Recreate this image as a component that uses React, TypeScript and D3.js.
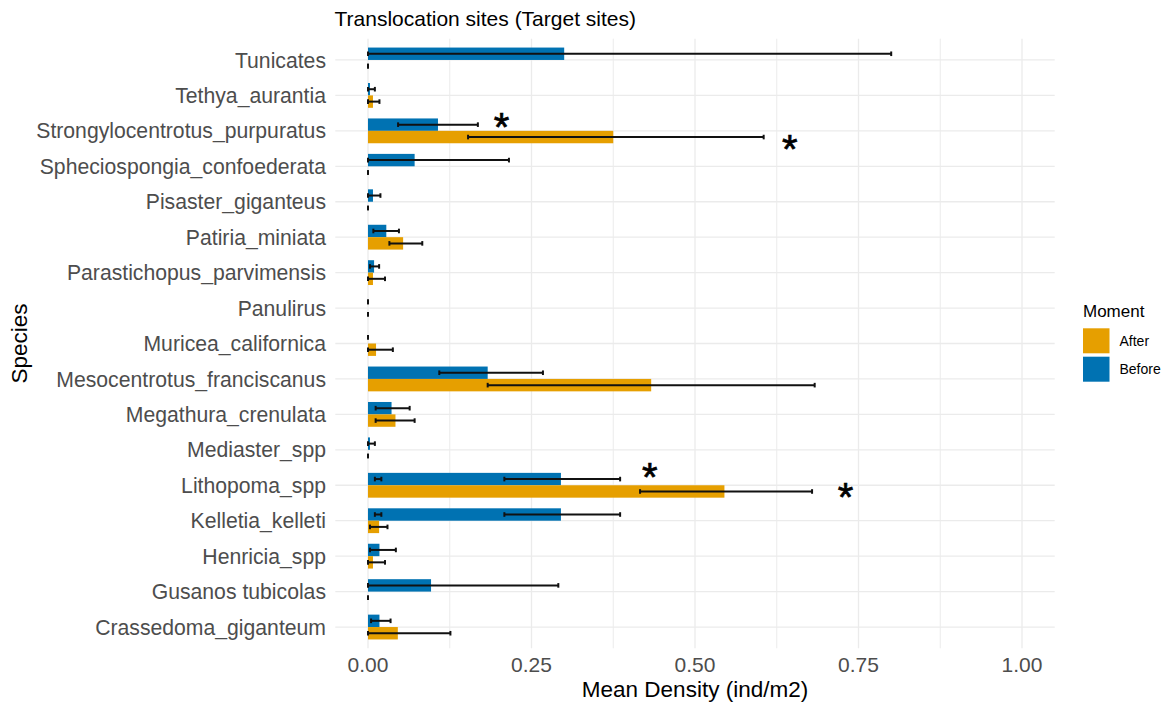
import React from "react";
import * as d3 from "d3";

const species = [
  "Tunicates",
  "Tethya_aurantia",
  "Strongylocentrotus_purpuratus",
  "Spheciospongia_confoederata",
  "Pisaster_giganteus",
  "Patiria_miniata",
  "Parastichopus_parvimensis",
  "Panulirus",
  "Muricea_californica",
  "Mesocentrotus_franciscanus",
  "Megathura_crenulata",
  "Mediaster_spp",
  "Lithopoma_spp",
  "Kelletia_kelleti",
  "Henricia_spp",
  "Gusanos tubicolas",
  "Crassedoma_giganteum",
];

const beforeMean: (number | null)[] = [0.3, 0.003, 0.107, 0.0713, 0.0076, 0.028, 0.0093, null, null, 0.183, 0.036, 0.003, 0.295, 0.295, 0.0175, 0.0964, 0.0175];
const beforeLow = [0, 0, 0.046, 0, 0, 0.0082, 0.003, 0, 0, 0.109, 0.0117, 0, 0.2085, 0.2085, 0.003, 0, 0.0047];
const beforeHigh = [0.8, 0.0105, 0.168, 0.2155, 0.019, 0.0473, 0.017, 0, 0, 0.2675, 0.0637, 0.0105, 0.3855, 0.3855, 0.0426, 0.291, 0.0345];

const afterMean: (number | null)[] = [null, 0.0076, 0.375, null, null, 0.0537, 0.0076, null, 0.0123, 0.433, 0.042, null, 0.545, 0.017, 0.0076, null, 0.0456];
const afterLow = [0, 0, 0.153, 0, 0, 0.0327, 0, 0, 0, 0.183, 0.0117, 0, 0.416, 0.003, 0, 0, 0];
const afterHigh = [0, 0.0175, 0.605, 0, 0, 0.083, 0.026, 0, 0.038, 0.683, 0.0713, 0, 0.679, 0.0298, 0.026, 0, 0.126];

// additional (duplicated) error bars present in the source for "Before"
const extraBeforeSpecies = ["Lithopoma_spp", "Kelletia_kelleti"];
const extraBeforeLow = [0.0105, 0.0105];
const extraBeforeHigh = [0.0204, 0.0204];

// significance markers: species, x value, vertical offset (in category units)
const starSpecies = ["Strongylocentrotus_purpuratus", "Strongylocentrotus_purpuratus", "Lithopoma_spp", "Lithopoma_spp"];
const starX = [0.204, 0.645, 0.431, 0.73];
const starOffset = [-0.37, 0.25, -0.49, 0.09];

const xTicks = [0, 0.25, 0.5, 0.75, 1.0];
const xMinor = [0.125, 0.375, 0.625, 0.875];
const moments = ["After", "Before"];
const momentColors = ["#E69F00", "#0072B2"];

const W = 1175;
const H = 705;
const FONT = "'Liberation Sans', Arial, Helvetica, sans-serif";

export default function App() {
  const x = d3.scaleLinear().domain([-0.05, 1.05]).range([335.3, 1054.7]);
  const y = d3.scalePoint<string>().domain(species).range([38.7, 648.3]).padding(0.6);
  const step = y.step();
  const barH = step * 0.35;
  const color = d3.scaleOrdinal<string, string>().domain(moments).range(momentColors);
  const fmt = d3.format(".2f");
  const panelL = x.range()[0];
  const panelR = x.range()[1];
  const panelT = 38.7;
  const panelB = 648.3;
  const capH = 2.3;
  const ebColor = "#111";
  const ebW = 2;

  const errBar = (key: string, lo: number, hi: number, cy: number) => (
    <g key={key}>
      {hi > lo && (
        <line x1={x(lo)} x2={x(hi)} y1={cy} y2={cy} stroke={ebColor} strokeWidth={ebW} />
      )}
      <line x1={x(lo)} x2={x(lo)} y1={cy - capH} y2={cy + capH} stroke={ebColor} strokeWidth={ebW} />
      <line x1={x(hi)} x2={x(hi)} y1={cy - capH} y2={cy + capH} stroke={ebColor} strokeWidth={ebW} />
    </g>
  );

  return (
    <svg
      width={W}
      height={H}
      style={{ position: "absolute", left: 0, top: 0, background: "#fff" }}
      fontFamily={FONT}
    >
      <rect x={0} y={0} width={W} height={H} fill="#fff" />
      {/* grid */}
      {xMinor.map((t) => (
        <line key={"mn" + t} x1={x(t)} x2={x(t)} y1={panelT} y2={panelB} stroke="#EBEBEB" strokeWidth={1} />
      ))}
      {xTicks.map((t) => (
        <line key={"mj" + t} x1={x(t)} x2={x(t)} y1={panelT} y2={panelB} stroke="#EBEBEB" strokeWidth={1.3} />
      ))}
      {species.map((s) => (
        <line key={"hg" + s} x1={panelL} x2={panelR} y1={y(s)!} y2={y(s)!} stroke="#EBEBEB" strokeWidth={1.3} />
      ))}

      {/* bars */}
      {species.map((s, i) => {
        const cy = y(s)!;
        const b = beforeMean[i];
        const a = afterMean[i];
        return (
          <g key={"bar" + s}>
            {b !== null && (
              <rect x={x(0)} y={cy - barH} width={x(b) - x(0)} height={barH} fill={color("Before")} />
            )}
            {a !== null && (
              <rect x={x(0)} y={cy} width={x(a) - x(0)} height={barH} fill={color("After")} />
            )}
          </g>
        );
      })}

      {/* error bars */}
      {species.map((s, i) => {
        const cy = y(s)!;
        return (
          <g key={"eb" + s}>
            {errBar("b" + s, beforeLow[i], beforeHigh[i], cy - barH / 2)}
            {errBar("a" + s, afterLow[i], afterHigh[i], cy + barH / 2)}
          </g>
        );
      })}
      {extraBeforeSpecies.map((s, i) => errBar("x" + s, extraBeforeLow[i], extraBeforeHigh[i], y(s)! - barH / 2))}

      {/* significance stars */}
      {starSpecies.map((s, i) => (
        <text
          key={"st" + i}
          x={x(starX[i])}
          y={y(s)! + starOffset[i] * step + 23}
          textAnchor="middle"
          fontSize={40}
          fill="#000"
          stroke="#000"
          strokeWidth={0.7}
        >
          *
        </text>
      ))}

      {/* y axis labels */}
      {species.map((s) => (
        <text key={"yl" + s} x={326} y={y(s)!} dy="0.36em" textAnchor="end" fontSize={21.2} fill="#4D4D4D">
          {s}
        </text>
      ))}

      {/* x axis labels */}
      {xTicks.map((t) => (
        <text key={"xl" + t} x={x(t)} y={672} textAnchor="middle" fontSize={21} fill="#4D4D4D">
          {fmt(t)}
        </text>
      ))}

      {/* axis titles */}
      <text x={(panelL + panelR) / 2} y={697} textAnchor="middle" fontSize={22.5} fill="#000">
        Mean Density (ind/m2)
      </text>
      <text
        transform={`translate(26.5, ${(panelT + panelB) / 2}) rotate(-90)`}
        textAnchor="middle"
        fontSize={22.5}
        fill="#000"
      >
        Species
      </text>

      {/* title */}
      <text x={334.5} y={26} fontSize={21} fill="#000">
        Translocation sites (Target sites)
      </text>

      {/* legend */}
      <text x={1083} y={316.5} fontSize={17} fill="#000">
        Moment
      </text>
      {moments.map((m, i) => (
        <g key={"lg" + m}>
          <rect x={1083} y={328.3 + i * 28.4} width={26.5} height={25} fill={color(m)} />
          <text x={1119.5} y={345.6 + i * 28.4} fontSize={14} fill="#000">
            {m}
          </text>
        </g>
      ))}
    </svg>
  );
}
